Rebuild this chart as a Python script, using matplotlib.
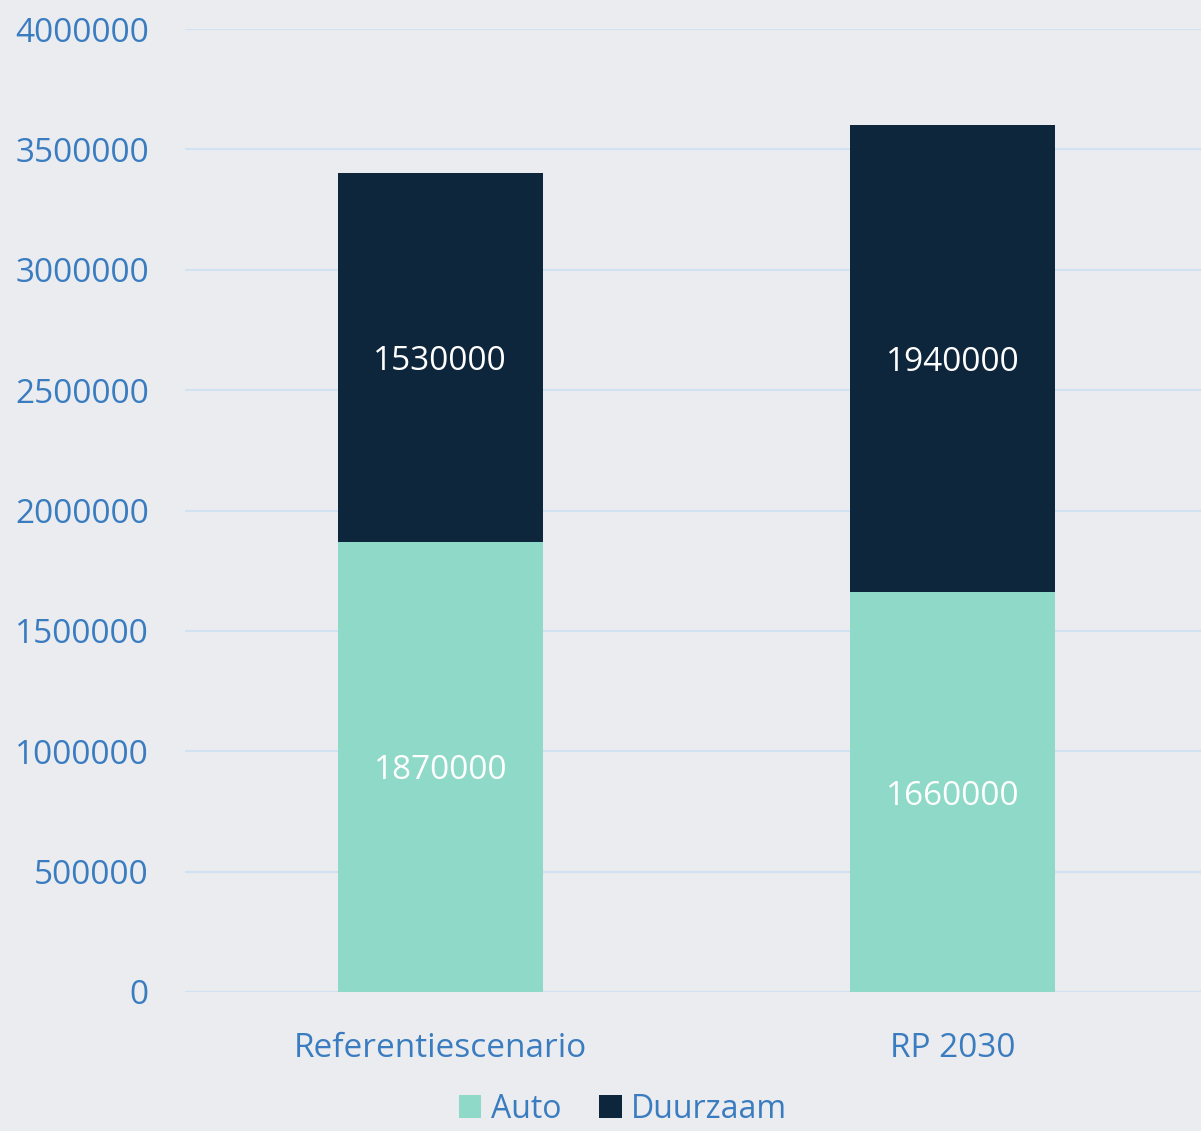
import matplotlib
matplotlib.use("Agg")
import matplotlib.pyplot as plt
from matplotlib.patches import Patch

categories = ["Referentiescenario", "RP 2030"]
auto = [1870000, 1660000]
duurzaam = [1530000, 1940000]
yticks = [0, 500000, 1000000, 1500000, 2000000, 2500000, 3000000, 3500000, 4000000]

BG = "#ebecf0"
MINT = "#8ed9c8"
NAVY = "#0e263b"
BLUE = "#3a7cc0"
GRID = "#d0e1f2"

plt.rcParams["font.family"] = ["Open Sans", "DejaVu Sans"]

W, H = 1201, 1131
fig = plt.figure(figsize=(W / 100, H / 100), dpi=100)
fig.patch.set_facecolor(BG)
ax = fig.add_axes([185 / W, 1 - 992 / H, 1 - 185 / W, (992 - 29) / H])
ax.set_facecolor(BG)

x = list(range(len(categories)))
ax.bar(x, auto, width=0.40, color=MINT, zorder=3)
ax.bar(x, duurzaam, width=0.40, bottom=auto, color=NAVY, zorder=3)

# waarden midden in elk segment
for i in x:
    ax.text(i, auto[i] / 2, f"{auto[i]}", ha="center", va="center_baseline",
            color="white", fontsize=24, zorder=4)
    ax.text(i, auto[i] + duurzaam[i] / 2, f"{duurzaam[i]}", ha="center",
            va="center_baseline", color="white", fontsize=24, zorder=4)

ax.set_xlim(-0.498, 1.484)
ax.set_ylim(0, 4000000)
ax.set_yticks(yticks)
ax.set_yticklabels([str(v) for v in yticks])
ax.set_xticks(x)
ax.set_xticklabels(categories)
ax.tick_params(axis="y", length=0, pad=26, labelsize=24, labelcolor=BLUE)
ax.tick_params(axis="x", length=0, pad=29, labelsize=24, labelcolor=BLUE)
ax.grid(axis="y", color=GRID, lw=1.5, zorder=0)
ax.set_axisbelow(True)
for s in ax.spines.values():
    s.set_visible(False)

handles = [Patch(facecolor=MINT, label="Auto"), Patch(facecolor=NAVY, label="Duurzaam")]
leg = fig.legend(handles=handles, loc="center", bbox_to_anchor=(623 / W, 1 - 1109 / H),
                 ncol=2, frameon=False, fontsize=23, handlelength=0.7, handleheight=0.7,
                 handletextpad=0.3, columnspacing=1.2, borderpad=0.1)
for t in leg.get_texts():
    t.set_color(BLUE)

fig.savefig("out.png", dpi=100, facecolor=BG)
